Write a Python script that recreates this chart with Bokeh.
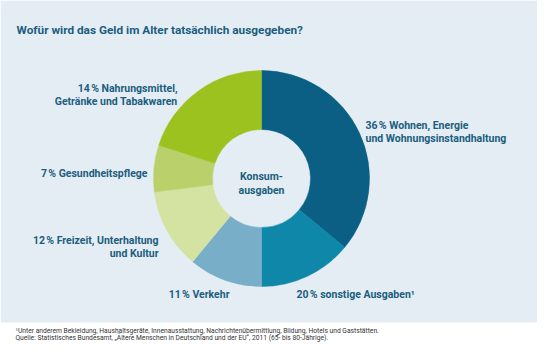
import numpy as np
from bokeh.plotting import figure
from bokeh.models import ColumnDataSource, Range1d, BoxAnnotation
from bokeh.core.properties import value
from bokeh.embed import file_html
from bokeh.resources import INLINE

# ---- data ----
categories = ["Wohnen, Energie und Wohnungsinstandhaltung", "sonstige Ausgaben",
              "Verkehr", "Freizeit, Unterhaltung und Kultur",
              "Gesundheitspflege", "Nahrungsmittel, Getränke und Tabakwaren"]
# slice shares as drawn in the picture (percent of circle)
shares = [36, 14, 11, 12, 7, 20]
colors = ["#0b5f84", "#0e87a9", "#79aec9", "#d5e3a2", "#bad06b", "#9cc21f"]
label_lines = [
    ["36\u202f% Wohnen, Energie", "und Wohnungsinstandhaltung"],
    ["20\u202f% sonstige Ausgaben\u00b9"],
    ["11\u202f% Verkehr"],
    ["12\u202f% Freizeit, Unterhaltung", "und Kultur"],
    ["7\u202f% Gesundheitspflege"],
    ["14\u202f% Nahrungsmittel,", "Getränke und Tabakwaren"],
]
title = "Wofür wird das Geld im Alter tatsächlich ausgegeben?"
center_text = ["Konsum-", "ausgaben"]
footnotes = [
    "\u00b9Unter anderem Bekleidung, Haushaltsgeräte, Innenausstattung, Nachrichtenübermittlung, Bildung, Hotels und Gaststätten.",
    " Quelle: Statistisches Bundesamt, \u201eÄltere Menschen in Deutschland und der EU\u201c, 2011 (65- bis 80-Jährige).",
]

# ---- layout ----
W, H = 537, 344
def X(xr):
    return xr
def Y(yr):
    return H - yr

FONT = "Roboto"
TXT = "#1b5d7e"

p = figure(width=W, height=H, output_backend="svg", toolbar_location=None,
           x_range=Range1d(0, W), y_range=Range1d(0, H),
           x_axis_location=None, y_axis_location=None, min_border=0,
           background_fill_color="white", border_fill_color="white")
p.grid.visible = False
p.outline_line_color = None

p.add_layout(BoxAnnotation(bottom=Y(322), top=H, left=0, right=W,
                           fill_color="#e4edf4", fill_alpha=1, line_color=None, level="underlay"))

# donut
frac = np.array(shares, dtype=float) / sum(shares)
cum = np.concatenate([[0], np.cumsum(frac)])
start = np.pi / 2 - 2 * np.pi * cum[:-1]
end = np.pi / 2 - 2 * np.pi * cum[1:]
src = ColumnDataSource(dict(start=start, end=end, color=colors, cat=categories))
cx, cy = X(261), Y(178)
p.annular_wedge(x=cx, y=cy, inner_radius=49, outer_radius=108,
                start_angle="start", end_angle="end", direction="clock",
                fill_color="color", line_color="color", line_width=0.5, source=src)

def put(x, y, txt, align, size="10.5px", bold=True, color=TXT):
    p.text(x=[x], y=[y], text=[txt], text_align=align, text_baseline="alphabetic",
           text_font=value(FONT), text_font_size=size,
           text_font_style="bold" if bold else "normal", text_color=color)

# title
put(X(16), Y(29), title, "left", size="11.8px")

# slice labels: (anchor x, first baseline, align)
label_pos = [(365, 125, "left"), (296, 294, "left"), (229, 294, "right"),
             (158, 240, "right"), (147, 173, "right"), (177, 88, "right")]
for lines, (lx, ly, al) in zip(label_lines, label_pos):
    for i, t in enumerate(lines):
        put(X(lx), Y(ly + 12.5 * i), t, al)

# center text
for i, t in enumerate(center_text):
    put(X(261), Y(176 + 14 * i), t, "center")

# footnotes
for i, t in enumerate(footnotes):
    put(X(15), Y(330 + 7.5 * i), t, "left", size="6.7px", bold=False, color="#333333")

open("out.html", "w").write(file_html(p, INLINE))
